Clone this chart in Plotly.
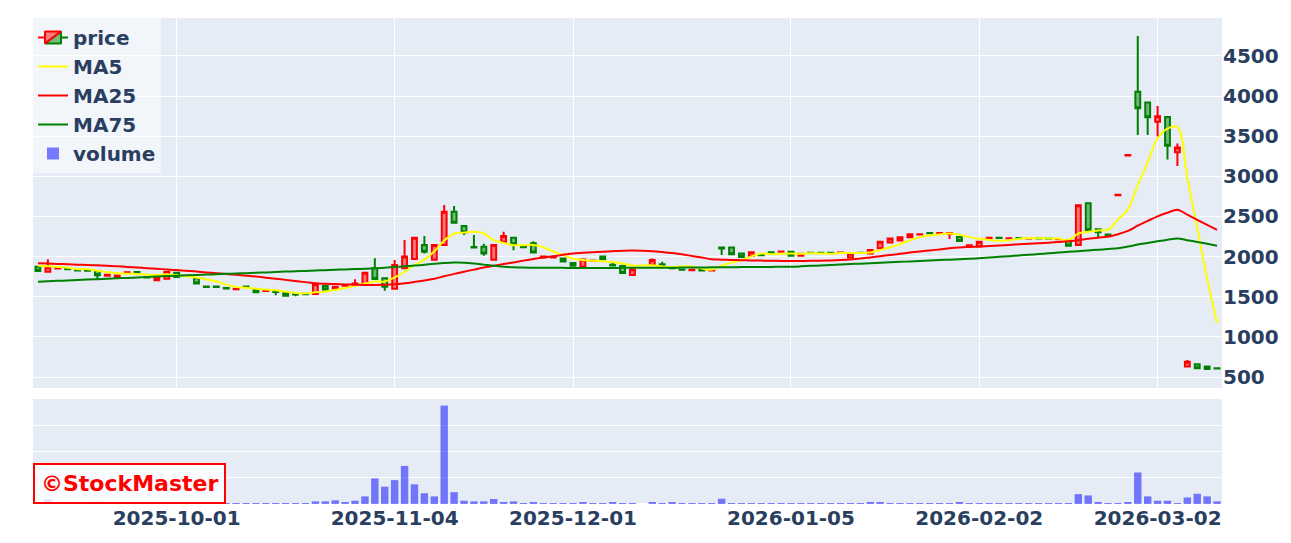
import plotly.graph_objects as go

dates = [
    "2025-09-09", "2025-09-10", "2025-09-11", "2025-09-12", "2025-09-16", "2025-09-17", "2025-09-18", "2025-09-19",
    "2025-09-22", "2025-09-24", "2025-09-25", "2025-09-26", "2025-09-29", "2025-09-30",
    "2025-10-01", "2025-10-02", "2025-10-03", "2025-10-06", "2025-10-07", "2025-10-08", "2025-10-09", "2025-10-10",
    "2025-10-14", "2025-10-15", "2025-10-16", "2025-10-17", "2025-10-20", "2025-10-21", "2025-10-22", "2025-10-23",
    "2025-10-24", "2025-10-27", "2025-10-28", "2025-10-29", "2025-10-30", "2025-10-31",
    "2025-11-04", "2025-11-05", "2025-11-06", "2025-11-07", "2025-11-10", "2025-11-11", "2025-11-12", "2025-11-13",
    "2025-11-14", "2025-11-17", "2025-11-18", "2025-11-19", "2025-11-20", "2025-11-21", "2025-11-25", "2025-11-26",
    "2025-11-27", "2025-11-28",
    "2025-12-01", "2025-12-02", "2025-12-03", "2025-12-04", "2025-12-05", "2025-12-08", "2025-12-09", "2025-12-10",
    "2025-12-11", "2025-12-12", "2025-12-15", "2025-12-16", "2025-12-17", "2025-12-18", "2025-12-19", "2025-12-22",
    "2025-12-23", "2025-12-24", "2025-12-25", "2025-12-26", "2025-12-29", "2025-12-30",
    "2026-01-05", "2026-01-06", "2026-01-07", "2026-01-08", "2026-01-09", "2026-01-13", "2026-01-14", "2026-01-15",
    "2026-01-16", "2026-01-19", "2026-01-20", "2026-01-21", "2026-01-22", "2026-01-23", "2026-01-26", "2026-01-27",
    "2026-01-28", "2026-01-29", "2026-01-30",
    "2026-02-02", "2026-02-03", "2026-02-04", "2026-02-05", "2026-02-06", "2026-02-09", "2026-02-10", "2026-02-12",
    "2026-02-13", "2026-02-16", "2026-02-17", "2026-02-18", "2026-02-19", "2026-02-20", "2026-02-24", "2026-02-25",
    "2026-02-26", "2026-02-27",
    "2026-03-02", "2026-03-03", "2026-03-04", "2026-03-05", "2026-03-06", "2026-03-09", "2026-03-10",
]

opens = [
    1875, 1812, 1852, 1848, 1833, 1830, 1821, 1760, 1740, 1800,
    1808, 1745, 1705, 1725, 1800, None, 1730, 1628, 1628, 1608,
    1594, 1628, 1584, 1573, 1565, 1543, 1532, 1536, 1534, 1634,
    1600, 1636, 1645, 1660, 1854, 1730, 1600, 1855, 1970, 2145,
    1960, 2145, 2560, 2381, 2120, 2123, 1960, 2186, 2236, 2122,
    2165, 1990, 1988, 1975, 1920, 1875, 1948, 2000, 1900, 1883,
    1771, None, 1895, 1905, 1860, 1840, 1831, 1832, 1828, 2115,
    2115, 2040, 2007, 2022, 2055, 2059, 2060, 2010, 2049, 2049,
    2049, 2046, 1990, 2049, 2040, 2103, 2175, 2200, 2240, 2276,
    2294, 2291, 2285, 2245, 2136, 2125, 2231, 2236, 2226, 2232,
    2226, 2229, 2226, 2216, 2205, 2145, 2665, 2340, 2274, 2765,
    3261, 4055, 3920, 3680, 3740, 3300, 630, 660, 630, 610,
]
highs = [
    1880, 1966, 1880, 1848, 1833, 1830, 1821, 1775, 1765, 1805,
    1808, 1745, 1742, 1808, 1800, None, 1730, 1628, 1628, 1608,
    1598, 1640, 1584, 1577, 1565, 1543, 1532, 1536, 1655, 1634,
    1625, 1640, 1717, 1800, 1979, 1730, 1958, 2207, 2240, 2257,
    2145, 2643, 2630, 2381, 2270, 2160, 2145, 2310, 2236, 2122,
    2190, 2015, 2010, 1975, 1920, 1965, 1952, 2000, 1920, 1900,
    1842, None, 1975, 1935, 1860, 1840, 1835, 1832, 1832, 2120,
    2115, 2040, 2053, 2022, 2055, 2063, 2060, 2035, 2049, 2049,
    2049, 2050, 2040, 2049, 2082, 2186, 2227, 2240, 2280, 2280,
    2294, 2295, 2295, 2245, 2140, 2185, 2235, 2236, 2230, 2232,
    2230, 2229, 2226, 2220, 2205, 2640, 2665, 2340, 2274, 2770,
    3266, 4750, 3925, 3877, 3750, 3410, 712, 660, 630, 610,
]
lows = [
    1815, 1808, 1850, 1842, 1828, 1825, 1717, 1760, 1720, 1800,
    1802, 1740, 1705, 1725, 1735, None, 1665, 1622, 1622, 1602,
    1594, 1622, 1555, 1573, 1520, 1512, 1505, 1532, 1534, 1590,
    1600, 1636, 1640, 1660, 1717, 1575, 1593, 1845, 1970, 2040,
    1955, 2145, 2423, 2270, 2110, 2011, 1958, 2186, 2080, 2118,
    2050, 1980, 1980, 1940, 1885, 1875, 1948, 1968, 1890, 1795,
    1771, None, 1895, 1900, 1856, 1836, 1831, 1828, 1828, 2020,
    2030, 1995, 2007, 2018, 2051, 2059, 2010, 2010, 2045, 2045,
    2045, 2046, 1990, 2045, 2040, 2103, 2175, 2200, 2240, 2276,
    2290, 2291, 2220, 2195, 2136, 2125, 2231, 2232, 2226, 2228,
    2226, 2225, 2222, 2216, 2135, 2145, 2330, 2235, 2270, 2765,
    3261, 3515, 3515, 3495, 3210, 3130, 630, 610, 590, 606,
]
closes = [
    1820, 1867, 1858, 1842, 1828, 1825, 1767, 1775, 1765, 1805,
    1802, 1740, 1742, 1808, 1745, None, 1665, 1622, 1622, 1602,
    1598, 1622, 1555, 1577, 1560, 1512, 1528, 1532, 1655, 1590,
    1625, 1640, 1665, 1800, 1720, 1625, 1895, 2000, 2236, 2061,
    2145, 2560, 2423, 2300, 2115, 2040, 2145, 2257, 2155, 2118,
    2050, 2000, 1995, 1940, 1885, 1965, 1952, 1968, 1890, 1795,
    1842, None, 1958, 1900, 1856, 1836, 1835, 1828, 1832, 2100,
    2030, 1995, 2053, 2018, 2051, 2063, 2010, 2035, 2045, 2045,
    2045, 2050, 2040, 2045, 2082, 2186, 2227, 2240, 2280, 2280,
    2290, 2295, 2295, 2195, 2140, 2185, 2235, 2232, 2230, 2228,
    2230, 2225, 2222, 2220, 2135, 2640, 2330, 2305, 2270, 2770,
    3266, 3850, 3735, 3750, 3380, 3360, 690, 610, 600, 606,
]
ma5 = [
    1887, 1880, 1872, 1862, 1843, 1844, 1824, 1807, 1792, 1787,
    1783, 1777, 1771, 1779, 1767, None, 1740, 1716, 1692, 1651,
    1622, 1613, 1600, 1591, 1582, 1565, 1546, 1542, 1557, 1563,
    1586, 1608, 1635, 1664, 1690, 1690, 1741, 1808, 1895, 1963,
    2067, 2200, 2285, 2298, 2309, 2288, 2205, 2171, 2142, 2143,
    2145, 2116, 2064, 2021, 1974, 1957, 1947, 1942, 1932, 1914,
    1889, None, 1891, 1877, 1870, 1878, 1877, 1851, 1837, 1886,
    1925, 1957, 2002, 2039, 2029, 2036, 2039, 2035, 2041, 2040,
    2036, 2044, 2045, 2045, 2052, 2081, 2116, 2156, 2203, 2243,
    2263, 2277, 2288, 2271, 2243, 2222, 2210, 2197, 2204, 2222,
    2231, 2229, 2227, 2225, 2206, 2288, 2309, 2326, 2336, 2463,
    2588, 2892, 3178, 3474, 3596, 3615, 2983, 2358, 1728, 1173,
]
ma25 = [
    1917, 1913, 1909, 1905, 1900, 1895, 1891, 1887, 1880, 1872,
    1864, 1856, 1848, 1840, 1833, None, 1813, 1803, 1793, 1783,
    1773, 1763, 1752, 1738, 1724, 1710, 1696, 1682, 1667, 1662,
    1658, 1654, 1650, 1647, 1646, 1648, 1655, 1668, 1685, 1703,
    1725, 1755, 1785, 1812, 1838, 1864, 1885, 1907, 1928, 1950,
    1970, 1988, 2005, 2022, 2040, 2048, 2055, 2062, 2068, 2073,
    2075, None, 2068, 2058, 2044, 2028, 2008, 1988, 1968, 1962,
    1958, 1955, 1952, 1950, 1948, 1946, 1945, 1946, 1947, 1949,
    1953, 1958, 1965, 1975, 1990, 2005, 2020, 2035, 2050, 2064,
    2077, 2090, 2104, 2114, 2120, 2125, 2132, 2139, 2146, 2153,
    2160, 2167, 2174, 2181, 2190, 2205, 2222, 2236, 2248, 2278,
    2320, 2385, 2445, 2502, 2546, 2585, 2522, 2458, 2395, 2333,
]
ma75 = [
    1687, 1692, 1698, 1703, 1708, 1714, 1719, 1724, 1730, 1735,
    1740, 1746, 1751, 1757, 1762, None, 1771, 1776, 1780, 1785,
    1790, 1794, 1799, 1803, 1808, 1813, 1817, 1822, 1826, 1831,
    1836, 1840, 1845, 1849, 1854, 1862, 1870, 1879, 1888, 1898,
    1910, 1920, 1926, 1925, 1915, 1900, 1885, 1874, 1867, 1863,
    1862, 1861, 1860, 1860, 1859, 1859, 1859, 1859, 1859, 1860,
    1860, None, 1861, 1862, 1862, 1863, 1864, 1865, 1866, 1867,
    1868, 1869, 1870, 1871, 1872, 1873, 1874, 1879, 1885, 1890,
    1896, 1901, 1907, 1912, 1918, 1923, 1929, 1935, 1940, 1946,
    1951, 1957, 1962, 1968, 1973, 1979, 1988, 1997, 2005, 2014,
    2023, 2032, 2041, 2050, 2059, 2068, 2077, 2086, 2094, 2103,
    2125, 2150, 2170, 2190, 2210, 2227, 2205, 2182, 2160, 2136,
]
volume = [
    5000, 19000, 2000, 2000, 2000, 2000, 10000, 3000, 4000, 1000,
    2000, 2000, 3000, 5000, 4000, 0, 4000, 1000, 1000, 1000,
    1000, 500, 1500, 500, 2000, 2000, 2000, 3000, 10000, 10000,
    14000, 4000, 12500, 29000, 97500, 66000, 91000, 145000, 75000, 41000,
    29000, 375000, 45000, 12500, 10000, 10000, 19000, 7500, 10000, 500,
    4000, 3000, 500, 1000, 1000, 7500, 500, 1000, 4000, 3000,
    2000, 0, 4000, 1000, 4000, 500, 500, 1000, 500, 20000,
    2500, 1000, 1000, 500, 500, 500, 2500, 1000, 500, 500,
    500, 500, 2500, 500, 4000, 7500, 2500, 1000, 2500, 500,
    500, 500, 1000, 4000, 500, 1000, 500, 1000, 500, 500,
    500, 1000, 500, 500, 1000, 37500, 32500, 4000, 500, 2500,
    4000, 120000, 29000, 12500, 12500, 2500, 25000, 39000, 29000, 10000,
]
tick_dates = ["2025-10-01", "2025-11-04", "2025-12-01", "2026-01-05", "2026-02-02", "2026-03-02"]

fig = go.Figure()
fig.add_trace(go.Candlestick(
    x=dates, open=opens, high=highs, low=lows, close=closes, name="<b>price</b>",
    increasing=dict(line=dict(color="red", width=2)),
    decreasing=dict(line=dict(color="green", width=2)),
    xaxis="x", yaxis="y",
))
for name, vals, col in [("MA5", ma5, "yellow"), ("MA25", ma25, "red"), ("MA75", ma75, "green")]:
    fig.add_trace(go.Scatter(
        x=dates, y=vals, name=f"<b>{name}</b>", mode="lines", connectgaps=True,
        line=dict(color=col, width=2, shape="spline"), xaxis="x", yaxis="y",
    ))
fig.add_trace(go.Bar(
    x=dates, y=volume, name="<b>volume</b>", marker=dict(color="blue", line=dict(width=0)),
    opacity=0.5, xaxis="x2", yaxis="y2",
))

fig.update_layout(
    width=1283, height=535,
    margin=dict(l=25, r=69, t=10, b=39),
    template="plotly",
    font=dict(family="DejaVu Sans", size=20, color="#2a3f5f", weight="bold"),
    showlegend=True,
    legend=dict(x=0, y=1, xanchor="left", yanchor="top", bgcolor="rgba(255,255,255,0.5)",
                font=dict(size=20)),
    bargap=0.25,
    xaxis=dict(type="category", domain=[0, 1], anchor="y", categoryorder="array", categoryarray=dates,
               range=[-0.5, len(dates) - 0.5], tickmode="array", tickvals=tick_dates,
               showticklabels=False, rangeslider=dict(visible=False), showgrid=True),
    xaxis2=dict(type="category", domain=[0, 1], anchor="y2", categoryorder="array", categoryarray=dates,
                range=[-0.5, len(dates) - 0.5], tickmode="array", tickvals=tick_dates, ticktext=tick_dates,
                showgrid=False, matches="x"),
    yaxis=dict(domain=[0.2387, 1], side="right", range=[363, 4973], tickmode="linear", tick0=500, dtick=500,
               anchor="x"),
    yaxis2=dict(domain=[0, 0.216], range=[0, 400000], showticklabels=False, anchor="x2", dtick=100000),
    annotations=[dict(
        text="©StockMaster", xref="paper", yref="paper", x=0, y=0, xanchor="left", yanchor="bottom",
        showarrow=False, font=dict(size=22, color="red", weight="bold"),
        bordercolor="red", borderwidth=2, borderpad=6, bgcolor="rgba(255,255,255,0.8)",
    )],
)

fig.write_html("out.html")
